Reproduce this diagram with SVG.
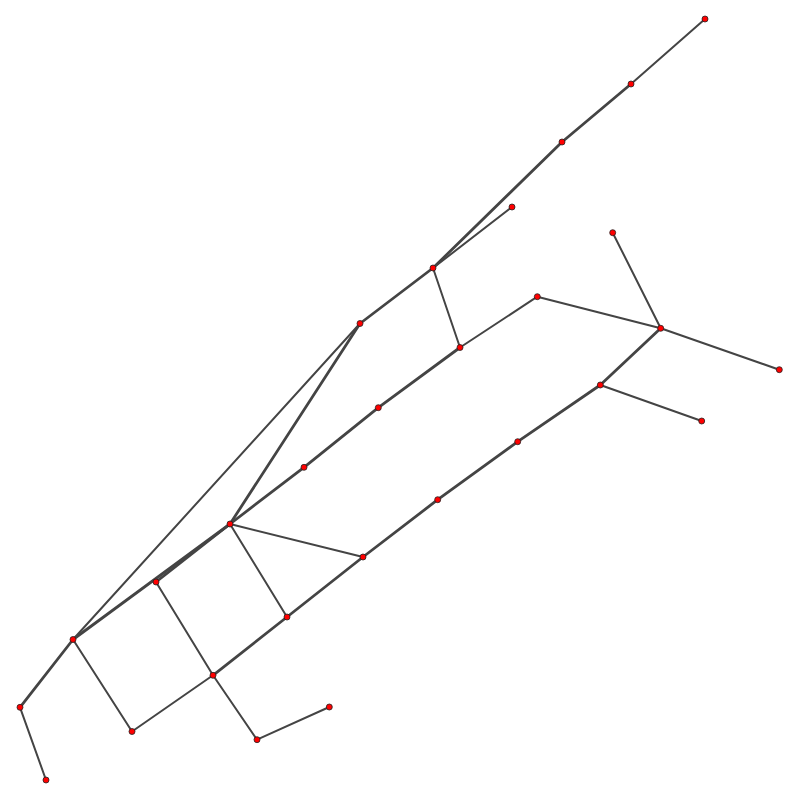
<svg xmlns="http://www.w3.org/2000/svg" width="800" height="800" viewBox="0 0 800 800">
<style>
.e{stroke:#444;stroke-width:2;fill:none;stroke-linecap:round}
.t{stroke:#444;stroke-width:2.8;fill:none;stroke-linecap:round}
.n{fill:#f00;stroke:#222;stroke-width:0.8}
</style>
<rect width="800" height="800" fill="#fff"/>
<g id="connectors">
<line class="e" x1="705" y1="19" x2="631" y2="84"/>
<line class="t" x1="631" y1="84" x2="562" y2="142"/>
<line class="t" x1="562" y1="142" x2="433" y2="268"/>
<line class="e" x1="512" y1="207" x2="433" y2="268"/>
<line class="t" x1="433" y1="268" x2="360" y2="323.5"/>
<line class="e" x1="433" y1="268" x2="460" y2="347.5"/>
<line class="t" x1="360" y1="323.5" x2="230" y2="524"/>
<line class="e" x1="360" y1="323.5" x2="73" y2="639.5"/>
<line class="e" x1="537.3" y1="296.7" x2="460" y2="347.5"/>
<line class="e" x1="537.3" y1="296.7" x2="660.7" y2="328.3"/>
<line class="e" x1="612.7" y1="232.7" x2="660.7" y2="328.3"/>
<line class="e" x1="660.7" y1="328.3" x2="779.3" y2="369.7"/>
<line class="t" x1="660.7" y1="328.3" x2="600.3" y2="385"/>
<line class="e" x1="600.3" y1="385" x2="701.7" y2="421"/>
<line class="t" x1="600.3" y1="385" x2="517.7" y2="441.7"/>
<line class="t" x1="517.7" y1="441.7" x2="437.7" y2="499.7"/>
<line class="t" x1="437.7" y1="499.7" x2="363" y2="557"/>
<line class="t" x1="363" y1="557" x2="287" y2="617"/>
<line class="t" x1="287" y1="617" x2="213" y2="675.3"/>
<line class="t" x1="460" y1="347.5" x2="378.3" y2="407.7"/>
<line class="t" x1="378.3" y1="407.7" x2="304" y2="467.3"/>
<line class="t" x1="304" y1="467.3" x2="230" y2="524"/>
<line class="t" x1="230" y1="524" x2="156" y2="582"/>
<line class="t" x1="230" y1="524" x2="73" y2="639.5"/>
<line class="e" x1="230" y1="524" x2="363" y2="557"/>
<line class="e" x1="230" y1="524" x2="287" y2="617"/>
<line class="e" x1="156" y1="582" x2="213" y2="675.3"/>
<line class="t" x1="73" y1="639.5" x2="20" y2="707.3"/>
<line class="e" x1="73" y1="639.5" x2="132" y2="731.5"/>
<line class="e" x1="132" y1="731.5" x2="213" y2="675.3"/>
<line class="e" x1="213" y1="675.3" x2="257" y2="739.7"/>
<line class="e" x1="257" y1="739.7" x2="329.3" y2="707"/>
<line class="e" x1="20" y1="707.3" x2="46" y2="780"/>
</g>
<g id="nodes">
<circle id="n1" class="n" cx="705" cy="19" r="3"/>
<circle id="n2" class="n" cx="631" cy="84" r="3"/>
<circle id="n3" class="n" cx="562" cy="142" r="3"/>
<circle id="n4" class="n" cx="512" cy="207" r="3"/>
<circle id="n5" class="n" cx="612.7" cy="232.7" r="3"/>
<circle id="n6" class="n" cx="433" cy="268" r="3"/>
<circle id="n7" class="n" cx="537.3" cy="296.7" r="3"/>
<circle id="n8" class="n" cx="360" cy="323.5" r="3"/>
<circle id="n9" class="n" cx="660.7" cy="328.3" r="3"/>
<circle id="n10" class="n" cx="460" cy="347.5" r="3"/>
<circle id="n11" class="n" cx="779.3" cy="369.7" r="3"/>
<circle id="n12" class="n" cx="600.3" cy="385" r="3"/>
<circle id="n13" class="n" cx="378.3" cy="407.7" r="3"/>
<circle id="n14" class="n" cx="701.7" cy="421" r="3"/>
<circle id="n15" class="n" cx="517.7" cy="441.7" r="3"/>
<circle id="n16" class="n" cx="304" cy="467.3" r="3"/>
<circle id="n17" class="n" cx="437.7" cy="499.7" r="3"/>
<circle id="n18" class="n" cx="230" cy="524" r="3"/>
<circle id="n19" class="n" cx="363" cy="557" r="3"/>
<circle id="n20" class="n" cx="156" cy="582" r="3"/>
<circle id="n21" class="n" cx="287" cy="617" r="3"/>
<circle id="n22" class="n" cx="73" cy="639.5" r="3"/>
<circle id="n23" class="n" cx="213" cy="675.3" r="3"/>
<circle id="n24" class="n" cx="329.3" cy="707" r="3"/>
<circle id="n25" class="n" cx="20" cy="707.3" r="3"/>
<circle id="n26" class="n" cx="132" cy="731.5" r="3"/>
<circle id="n27" class="n" cx="257" cy="739.7" r="3"/>
<circle id="n28" class="n" cx="46" cy="780" r="3"/>
</g>
</svg>
